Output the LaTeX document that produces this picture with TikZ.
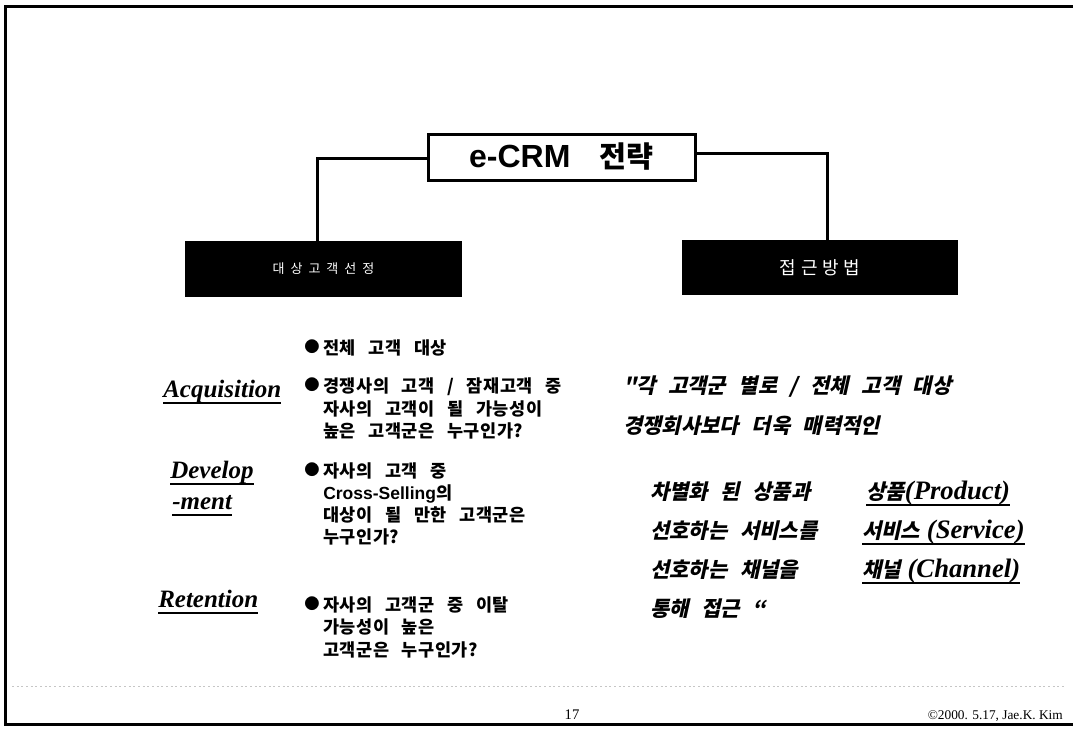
\documentclass[tikz,border=0pt]{standalone}
\usepackage{fontspec}
\setmainfont{Liberation Serif}
\newfontfamily\ar{Liberation Sans}
\newfontfamily\kr{Noto Sans CJK KR}[WordSpace=2.8,LetterSpace=3]
\newfontfamily\krit{Noto Sans CJK KR}[FakeSlant=0.22,WordSpace=2.6]
\newfontfamily\krls{Noto Sans CJK KR}
\newcommand\kri{\krit\upshape\fontsize{15.75}{18}\selectfont}
\newcommand\ulx[1]{\leavevmode\setbox0=\hbox{#1}\rlap{\rule[-5pt]{\wd0}{1.6pt}}\box0}
\begin{document}
\begin{tikzpicture}[x=0.75pt,y=-0.75pt,
  frameline/.style={line width=2.25pt},
  conn/.style={line width=2.25pt},
  titlebox/.style={draw,line width=2.25pt,minimum width=200.25pt,minimum height=34.5pt,inner sep=0},
  blackbox/.style={fill=black,inner sep=0,text=white},
  btext/.style={anchor=base west,inner sep=0,font=\kr\bfseries\fontsize{13.125}{16}\selectfont},
  bullet/.style={anchor=base west,inner sep=0,font=\krls\fontsize{11.5}{14}\selectfont},
  lbl/.style={anchor=base west,inner sep=0,font=\bfseries\itshape\fontsize{18.75}{22}\selectfont},
  itext/.style={anchor=base west,inner sep=0,font=\krit\bfseries\fontsize{15.75}{18}\selectfont},
  rcol/.style={anchor=base west,inner sep=0,font=\bfseries\itshape\fontsize{20}{24}\selectfont},
]
\useasboundingbox (0,0) rectangle (1073,728);
% frame
\draw[frameline] (1076,6) -- (5,6) -- (5,724) -- (1076,724);
\draw[gray!45,line width=0.75pt,dash pattern=on 1.5pt off 2pt] (12,686) -- (1066,686);
% title and category boxes
\node[titlebox] (title) at (561.5,157) {{\ar\bfseries\fontsize{24}{28}\selectfont e-CRM}\hspace{22pt}{\krls\bfseries\fontsize{22}{28}\selectfont 전략}};
\node[blackbox,minimum width=207.75pt,minimum height=42pt] (lbox) at (323.5,269) {\krls\fontsize{9.75}{12}\selectfont\addfontfeatures{LetterSpace=46}대상고객선정};
\node[blackbox,minimum width=207pt,minimum height=41.25pt] (rbox) at (820,267.5) {\krls\fontsize{13.5}{16}\selectfont\addfontfeatures{LetterSpace=27}접근방법};
\draw[conn] ([yshift=-0.75pt]title.west) -| ([xshift=-4.875pt]lbox.north);
\draw[conn] ([yshift=3pt]title.east) -| ([xshift=5.25pt]rbox.north);
% left labels
\node[lbl] (acq) at (163,397) {\ulx{Acquisition}};
\node[lbl] (dev1) at (170,478) {\ulx{Develop}};
\node[lbl] (dev2) at (172,509) {\ulx{-ment}};
\node[lbl] (ret) at (158,607) {\ulx{Retention}};
% bullets
\node[bullet] (b1) at (304,352) {●};
\node[btext] (t1) at (323,354) {전체 고객 대상};
\node[bullet] (b2) at (304,390) {●};
\node[btext] (t2a) at (323,392) {경쟁사의 고객 / 잠재고객 중};
\node[btext] (t2b) at (323,415) {자사의 고객이 될 가능성이};
\node[btext] (t2c) at (323,437) {높은 고객군은 누구인가?};
\node[bullet] (b3) at (304,475) {●};
\node[btext] (t3a) at (323,477) {자사의 고객 중};
\node[btext] (t3b) at (323,499) {{\ar\bfseries Cross-Selling}의};
\node[btext] (t3c) at (323,521) {대상이 될 만한 고객군은};
\node[btext] (t3d) at (323,543) {누구인가?};
\node[bullet] (b4) at (304,609) {●};
\node[btext] (t4a) at (323,611) {자사의 고객군 중 이탈};
\node[btext] (t4b) at (323,633) {가능성이 높은};
\node[btext] (t4c) at (323,656) {고객군은 누구인가?};
% right texts
\node[itext] (q1) at (623,393) {"각 고객군 별로 / 전체 고객 대상};
\node[itext] (q2) at (623,433) {경쟁회사보다 더욱 매력적인};
\node[itext] (p1) at (650,499) {차별화 된 상품과};
\node[itext] (p2) at (650,538) {선호하는 서비스를};
\node[itext] (p3) at (650,577) {선호하는 채널을};
\node[itext] (p4) at (650,616) {통해 접근 “};
\node[rcol] (r1) at (866,499) {\ulx{{\kri 상품}(Product)}};
\node[rcol] (r2) at (862,538) {\ulx{{\kri 서비스} (Service)}};
\node[rcol] (r3) at (862,577) {\ulx{{\kri 채널} (Channel)}};
% footer
\node[anchor=base,inner sep=0,font=\fontsize{11}{13}\selectfont] (pg) at (572,719) {17};
\node[anchor=base east,inner sep=0,font=\fontsize{10}{12}\selectfont] (cr) at (1063,719) {©2000. 5.17, Jae.K. Kim};
\end{tikzpicture}
\end{document}
